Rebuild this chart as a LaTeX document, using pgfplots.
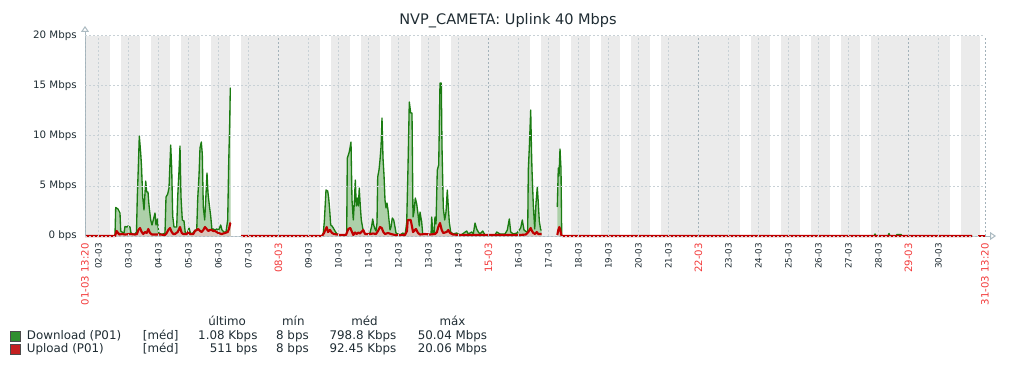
\documentclass[border=0pt]{standalone}
\usepackage{fontspec}
\setmainfont{DejaVu Sans}
\usepackage{pgfplots}
\pgfplotsset{compat=1.18}
\usepackage{pgfplotstable}
\usetikzlibrary{arrows.meta}

\definecolor{dlgreen}{HTML}{1A7C11}
\definecolor{ulred}{HTML}{C00000}
\definecolor{ulfillc}{HTML}{D9C4BA}
\definecolor{bandgray}{HTML}{EBEBEB}
\definecolor{gridcol}{HTML}{C8D1D6}
\definecolor{gridmain}{HTML}{A3B2BA}
\definecolor{axiscol}{HTML}{ACBBC2}
\definecolor{txt}{HTML}{1F2C33}
\definecolor{lblred}{HTML}{F23B3B}
\definecolor{legG}{HTML}{2F8F2F}
\definecolor{legR}{HTML}{C42020}

% x = days since 01-03 00:00, y = Mbps
\pgfplotstableread{
x y
0.5556 0
1.5222 0
1.5556 0.1
1.5789 2.85
1.6556 2.7
1.7222 2.3
1.7456 0.5
1.7889 0.4
1.8556 0.3
1.8889 0.95
1.9556 0.9
1.9889 1.0
2.0556 0.9
2.0889 0.3
2.1556 0.2
2.2222 0.2
2.2722 0.4
2.2989 3.9
2.3322 6.8
2.3656 10.0
2.4122 8.3
2.4389 7.0
2.4789 3.9
2.5222 2.6
2.5789 5.5
2.6122 4.4
2.6556 4.4
2.6889 3.1
2.7456 1.6
2.7889 1.1
2.8322 1.6
2.8889 2.3
2.9222 1.1
2.9656 1.7
3.0122 0.3
3.0889 0.2
3.1556 0.2
3.2222 0.3
3.2556 3.9
3.3122 4.2
3.3556 4.8
3.4122 9.1
3.4456 6.8
3.4789 2.0
3.5222 0.9
3.6122 0.9
3.6456 3.9
3.6889 6.5
3.7222 9.0
3.7556 3.9
3.7989 1.6
3.8556 1.5
3.8989 0.3
3.9556 0.2
4.0222 0.8
4.0789 0.2
4.1556 0.3
4.2222 0.6
4.2789 0.5
4.3122 3.7
4.3556 6.0
4.3889 8.8
4.4322 9.4
4.4656 8.2
4.4989 2.9
4.5456 1.6
4.5889 4.2
4.6222 6.3
4.6556 4.3
4.6989 3.1
4.7456 2.0
4.7889 0.6
4.8322 0.7
4.8889 0.6
4.9456 0.7
5.0122 0.6
5.0789 1.1
5.1222 0.6
5.1889 0.4
5.2556 0.4
5.3122 1.6
5.3456 7.3
5.3789 11.3
5.3989 14.8
5.4122 14.8
}\dlA

\pgfplotstableread{
x y
0.5556 0
1.5556 0
1.6122 0.5
1.6556 0.3
1.7056 0.15
1.7889 0.2
1.8889 0.15
2.0556 0.2
2.2222 0.15
2.2889 0.2
2.3322 0.6
2.3889 0.8
2.4456 0.4
2.4989 0.2
2.5556 0.4
2.6122 0.3
2.6656 0.7
2.7222 0.3
2.7889 0.15
3.0556 0.15
3.2222 0.1
3.2789 0.3
3.3322 0.6
3.3889 0.8
3.4456 0.4
3.4989 0.2
3.5556 0.2
3.6456 0.4
3.7222 0.9
3.7789 0.3
3.8322 0.2
3.9456 0.2
3.9989 0.4
4.0556 0.2
4.1656 0.2
4.2222 0.5
4.2789 0.6
4.3322 0.7
4.3889 0.5
4.4456 0.4
4.4989 0.6
4.5556 0.9
4.6122 0.7
4.6656 0.5
4.7222 0.6
4.7789 0.6
4.8322 0.5
4.8889 0.5
4.9989 0.3
5.1122 0.2
5.2222 0.3
5.3122 0.4
5.3556 0.7
5.3989 1.3
5.4122 1.3
}\ulA

\pgfplotstableread{
x y
5.7556 0
8.4556 0
8.4989 0.3
8.5322 1.4
8.5889 4.6
8.6456 4.5
8.6789 3.8
8.7122 2.6
8.7456 1.1
8.7889 1.0
8.8322 0.8
8.8889 0.5
8.9556 0.2
9.0222 0.1
9.2556 0.1
9.2789 0.3
9.2989 7.8
9.3556 8.3
9.3889 8.8
9.4222 9.4
9.4556 3.6
9.4989 1.6
9.5322 3.3
9.5656 5.6
9.5989 3.0
9.6322 3.8
9.6656 3.0
9.6989 4.8
9.7322 3.0
9.7656 1.6
9.8122 0.8
9.8556 0.3
9.9222 0.2
9.9889 0.2
10.0556 0.3
10.1122 1.0
10.1456 1.7
10.1789 1.1
10.2222 0.7
10.2556 0.5
10.2889 1.3
10.3122 5.9
10.3556 6.6
10.3889 7.6
10.4222 8.9
10.4556 11.8
10.4889 7.8
10.5222 6.1
10.5556 3.6
10.5889 2.8
10.6222 3.3
10.6556 2.6
10.6889 1.6
10.7222 0.6
10.7556 0.9
10.7989 1.8
10.8456 1.6
10.8889 0.9
10.9222 0.3
10.9889 0.2
11.0556 0.1
11.1556 0.3
11.2222 0.1
11.2789 1.3
11.3222 6.9
11.3656 13.4
11.4122 12.3
11.4556 12.3
11.4889 1.9
11.5222 2.4
11.5656 3.8
11.6122 3.2
11.6556 2.2
11.6989 1.0
11.7222 2.4
11.7789 1.4
11.8122 0.2
11.8889 0.1
11.9889 0.1
12.0889 0.1
12.1122 1.9
12.1456 0.4
12.1889 0.2
12.2222 1.9
12.2556 1.2
12.2989 6.6
12.3456 7.1
12.3889 15.3
12.4322 15.3
12.4556 8.9
12.4989 2.8
12.5456 1.6
12.5889 2.4
12.6322 4.6
12.6656 2.9
12.6989 1.4
12.7456 0.4
12.8222 0.2
12.9456 0.3
12.9889 0.2
13.0889 0.1
13.2789 0.5
13.3322 0.2
13.4456 0.4
13.4989 0.2
13.5556 1.3
13.6122 0.7
13.6656 0.4
13.7222 0.2
13.8122 0.5
13.8889 0.1
14.0556 0.1
14.2222 0.1
14.2789 0.4
14.3889 0.2
14.5556 0.2
14.6322 0.6
14.6989 1.7
14.7456 0.4
14.8322 0.2
14.9556 0.3
15.0789 0.8
15.1322 1.6
15.1889 0.6
15.2789 0.4
15.3122 0.5
15.3322 6.6
15.3656 8.8
15.4122 12.6
15.4389 8.5
15.4556 6.6
15.4989 3.1
15.5456 0.7
15.5889 3.3
15.6322 4.9
15.6656 3.3
15.6989 1.5
15.7456 0.6
15.7789 0.6
}\dlB

\pgfplotstableread{
x y
5.7556 0
8.4556 0
8.5222 0.3
8.6122 0.9
8.6556 0.4
8.7222 0.6
8.7889 0.3
8.8556 0.2
9.0556 0.1
9.2556 0.1
9.3322 0.7
9.3989 0.8
9.4556 0.4
9.4989 0.1
9.5556 0.35
9.6122 0.2
9.6656 0.35
9.7222 0.25
9.8322 0.6
9.8889 0.2
10.0556 0.2
10.1556 0.25
10.2556 0.2
10.3222 0.5
10.3889 0.9
10.4456 0.8
10.4989 0.4
10.5556 0.2
10.6556 0.3
10.7556 0.2
10.8889 0.1
11.0556 0.1
11.2222 0.1
11.2889 0.5
11.3122 1.6
11.4122 1.6
11.4456 1.1
11.4889 0.4
11.5889 0.7
11.6556 0.3
11.7222 0.15
11.8889 0.2
12.0556 0.15
12.2222 0.2
12.2889 0.4
12.3322 0.9
12.3889 1.3
12.4456 0.6
12.4989 0.3
12.6122 0.4
12.6656 0.6
12.7222 0.3
12.8222 0.15
13.0556 0.1
13.3889 0.1
13.7222 0.1
14.0556 0.1
14.3889 0.1
14.7222 0.1
15.0556 0.1
15.2556 0.15
15.3322 0.4
15.4122 0.8
15.4556 0.5
15.4989 0.3
15.5556 0.2
15.6122 0.4
15.6656 0.2
15.7789 0.2
}\ulB

\pgfplotstableread{
x y
16.2989 2.9
16.3322 6.8
16.3556 6.0
16.3889 8.7
16.4222 6.7
16.4456 0.1
16.4556 0
26.8556 0
26.8889 0.2
26.9222 0
27.3222 0
27.3556 0.25
27.3889 0
27.5889 0
27.6222 0.15
27.7556 0.15
27.7889 0
30.1222 0
}\dlC

\pgfplotstableread{
x y
16.2989 0.1
16.3322 0.6
16.3656 0.9
16.3989 0.6
16.4322 0.1
16.4556 0
30.1222 0
}\ulC

\pgfplotstableread{
x y
30.3222 0
30.5556 0
}\ulD

\pgfplotsset{
  dlsolid/.style={draw=none, fill=dlgreen!36!white},
  dlline/.style={draw=dlgreen, line width=1pt, mark=none, line join=round},
  ulfill/.style={draw=none, fill=ulfillc},
  ulline/.style={draw=ulred, line width=1.6pt, mark=none, line join=round},
}

\begin{document}
\begin{tikzpicture}
\begin{axis}[
  axis on top,
  at={(63.75pt,99pt)}, anchor=south west,
  scale only axis, width=675pt, height=150pt,
  xmin=0.5556, xmax=30.5556, ymin=0, ymax=20,
  clip=false,
  axis line style={draw=none},
  major tick length=0pt,
  xmajorgrids, ymajorgrids,
  major grid style={gridcol, line width=0.75pt, dash pattern=on 1.5pt off 1.5pt},
  ytick={0,5,10,15,20},
  yticklabels={0 bps,5 Mbps,10 Mbps,15 Mbps,20 Mbps},
  yticklabel style={font=\fontsize{7.7}{9}\selectfont, text=txt, anchor=east, inner sep=0pt},
  yticklabel shift=6pt,
  xtick={1,2,3,4,5,6,8,9,10,11,12,13,15,16,17,18,19,20,22,23,24,25,26,27,29},
  xticklabels={02-03,03-03,04-03,05-03,06-03,07-03,09-03,10-03,11-03,12-03,13-03,14-03,16-03,17-03,18-03,19-03,20-03,21-03,23-03,24-03,25-03,26-03,27-03,28-03,30-03},
  xticklabel style={rotate=90, anchor=east, inner sep=0pt, font=\fontsize{6.6}{8}\selectfont, text=txt},
  xticklabel shift=5.25pt,
  extra x ticks={0.5556,7,14,21,28,30.5556},
  extra x tick labels={01-03 13:20,08-03,15-03,22-03,29-03,31-03 13:20},
  extra x tick style={grid=major,
    major grid style={gridmain, line width=0.75pt, dash pattern=on 1.5pt off 1.5pt},
    xticklabel style={text=lblred, font=\fontsize{7.6}{9}\selectfont}},
]
% non-working time bands (grey) and working hours (white)
\fill[bandgray] (axis cs:0.5556,0) rectangle (axis cs:30.5556,20);
\fill[white] (axis cs:1.375,0) rectangle (axis cs:1.75,20);
\fill[white] (axis cs:2.375,0) rectangle (axis cs:2.75,20);
\fill[white] (axis cs:3.375,0) rectangle (axis cs:3.75,20);
\fill[white] (axis cs:4.375,0) rectangle (axis cs:4.75,20);
\fill[white] (axis cs:5.375,0) rectangle (axis cs:5.75,20);
\fill[white] (axis cs:8.375,0) rectangle (axis cs:8.75,20);
\fill[white] (axis cs:9.375,0) rectangle (axis cs:9.75,20);
\fill[white] (axis cs:10.375,0) rectangle (axis cs:10.75,20);
\fill[white] (axis cs:11.375,0) rectangle (axis cs:11.75,20);
\fill[white] (axis cs:12.375,0) rectangle (axis cs:12.75,20);
\fill[white] (axis cs:15.375,0) rectangle (axis cs:15.75,20);
\fill[white] (axis cs:16.375,0) rectangle (axis cs:16.75,20);
\fill[white] (axis cs:17.375,0) rectangle (axis cs:17.75,20);
\fill[white] (axis cs:18.375,0) rectangle (axis cs:18.75,20);
\fill[white] (axis cs:19.375,0) rectangle (axis cs:19.75,20);
\fill[white] (axis cs:22.375,0) rectangle (axis cs:22.75,20);
\fill[white] (axis cs:23.375,0) rectangle (axis cs:23.75,20);
\fill[white] (axis cs:24.375,0) rectangle (axis cs:24.75,20);
\fill[white] (axis cs:25.375,0) rectangle (axis cs:25.75,20);
\fill[white] (axis cs:26.375,0) rectangle (axis cs:26.75,20);
\fill[white] (axis cs:29.375,0) rectangle (axis cs:29.75,20);
\fill[white] (axis cs:30.375,0) rectangle (axis cs:30.5556,20);

% axis lines with open arrow heads
\draw[axiscol, line width=0.75pt, -{Triangle[open, length=4.5pt, width=6pt]}]
  (rel axis cs:0,0) -- (rel axis cs:0,1.05);
\draw[axiscol, line width=0.75pt, -{Triangle[open, length=4.5pt, width=6pt]}]
  (rel axis cs:0,0) -- (rel axis cs:1.0122,0);

% Download (green)
\addplot[dlsolid] table {\dlA} \closedcycle;
\addplot[dlsolid] table {\dlB} \closedcycle;
\addplot[dlsolid] table {\dlC} \closedcycle;
\addplot[dlline] table {\dlA};
\addplot[dlline] table {\dlB};
\addplot[dlline] table {\dlC};
% Upload (red)
\addplot[ulfill] table {\ulA} \closedcycle;
\addplot[ulline] table {\ulA};
\addplot[ulfill] table {\ulB} \closedcycle;
\addplot[ulline] table {\ulB};
\addplot[ulfill] table {\ulC} \closedcycle;
\addplot[ulline] table {\ulC};
\addplot[ulline] table {\ulD};
\end{axis}

% title
\node[anchor=base, inner sep=0pt, font=\fontsize{10.9}{13}\selectfont, text=txt]
  at (381pt,257.25pt) {NVP\_CAMETA: Uplink 40 Mbps};

% legend
\begin{scope}[every node/.style={inner sep=0pt, font=\fontsize{8.9}{10.5}\selectfont, text=txt}]
\node[anchor=base] at (170.4pt,31.7pt) {último};
\node[anchor=base] at (220pt,31.7pt) {mín};
\node[anchor=base] at (273.4pt,31.7pt) {méd};
\node[anchor=base] at (339.4pt,31.7pt) {máx};

\filldraw[fill=legG, draw=black!70, line width=0.6pt] (7.6pt,20.3pt) rectangle (15.4pt,27.7pt);
\node[anchor=base west] at (20pt,21.5pt) {Download (P01)};
\node[anchor=base west] at (107pt,21.5pt) {[méd]};
\node[anchor=base east] at (193.3pt,21.5pt) {1.08 Kbps};
\node[anchor=base east] at (231.75pt,21.5pt) {8 bps};
\node[anchor=base east] at (297.5pt,21.5pt) {798.8 Kbps};
\node[anchor=base east] at (365.5pt,21.5pt) {50.04 Mbps};

\filldraw[fill=legR, draw=black!70, line width=0.6pt] (7.6pt,10.3pt) rectangle (15.4pt,17.7pt);
\node[anchor=base west] at (20pt,11.5pt) {Upload (P01)};
\node[anchor=base west] at (107pt,11.5pt) {[méd]};
\node[anchor=base east] at (193.3pt,11.5pt) {511 bps};
\node[anchor=base east] at (231.75pt,11.5pt) {8 bps};
\node[anchor=base east] at (297.5pt,11.5pt) {92.45 Kbps};
\node[anchor=base east] at (365.5pt,11.5pt) {20.06 Mbps};
\end{scope}

\pgfresetboundingbox
\useasboundingbox (0,0) rectangle (762pt,276pt);
\end{tikzpicture}
\end{document}
